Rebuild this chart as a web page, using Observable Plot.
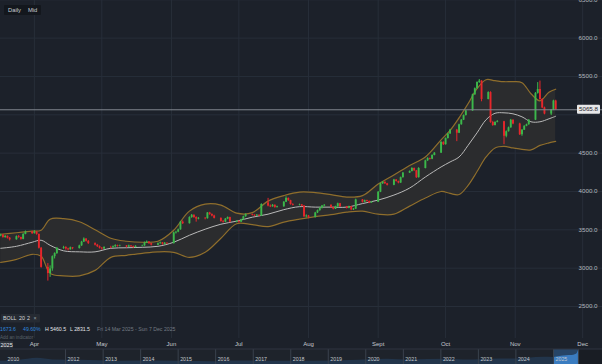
<!DOCTYPE html>
<html><head><meta charset="utf-8">
<script src="https://cdn.jsdelivr.net/npm/d3@7"></script>
<script src="https://cdn.jsdelivr.net/npm/@observablehq/plot@0.6"></script>
<style>
  html, body { margin:0; padding:0; background:#1c212a; }
  #wrap { position:relative; width:602px; height:364px; overflow:hidden; background:#1c212a; }
  #wrap svg { display:block; }
</style></head>
<body><div id="wrap"></div>
<script>
// ---------- data ----------
const dates = [
"03-14",
"03-17","03-18","03-19","03-20","03-21",
"03-24","03-25","03-26","03-27","03-28",
"03-31","04-01","04-02","04-03","04-04",
"04-07","04-08","04-09","04-10","04-11",
"04-14","04-15","04-16","04-17","04-18",
"04-21","04-22","04-23","04-24","04-25",
"04-28","04-29","04-30","05-01","05-02",
"05-05","05-06","05-07","05-08","05-09",
"05-12","05-13","05-14","05-15","05-16",
"05-19","05-20","05-21","05-22","05-23",
"05-26","05-27","05-28","05-29","05-30",
"06-02","06-03","06-04","06-05","06-06",
"06-09","06-10","06-11","06-12","06-13",
"06-16","06-17","06-18","06-19","06-20",
"06-23","06-24","06-25","06-26","06-27",
"06-30","07-01","07-02","07-03","07-04",
"07-07","07-08","07-09","07-10","07-11",
"07-14","07-15","07-16","07-17","07-18",
"07-21","07-22","07-23","07-24","07-25",
"07-28","07-29","07-30","07-31","08-01",
"08-04","08-05","08-06","08-07","08-08",
"08-11","08-12","08-13","08-14","08-15",
"08-18","08-19","08-20","08-21","08-22",
"08-25","08-26","08-27","08-28","08-29",
"09-01","09-02","09-03","09-04","09-05",
"09-08","09-09","09-10","09-11","09-12",
"09-15","09-16","09-17","09-18","09-19",
"09-22","09-23","09-24","09-25","09-26",
"09-29","09-30","10-01","10-02","10-03",
"10-06","10-07","10-08","10-09","10-10",
"10-13","10-14","10-15","10-16","10-17",
"10-20","10-21","10-22","10-23","10-24",
"10-27","10-28","10-29","10-30","10-31",
"11-03","11-04","11-05","11-06","11-07",
"11-10","11-11","11-12","11-13","11-14",
"11-17","11-18","11-19"];

const open = [
3445,
3420,3430,3400,3415,3390,
3370,3410,3400,3375,3440,
3470,3450,3470,3440,3260,
3010,2930,2990,3150,3190,
3260,3270,3250,3240,3265,
3255,3290,3340,3380,3350,
3320,3300,3280,3260,3250,
3270,3265,3280,3295,3285,
3290,3275,3290,3280,3270,
3285,3290,3330,3340,3320,
3300,3320,3330,3310,3325,
3320,3460,3470,3500,3600,
3580,3660,3690,3660,3640,
3650,3645,3720,3700,3680,
3650,3610,3600,3640,3660,
3600,3610,3600,3630,3670,
3700,3690,3680,3690,3680,
3850,3810,3800,3820,3790,
3800,3860,3910,3880,3830,
3820,3825,3810,3670,3680,
3660,3720,3750,3780,3810,
3820,3790,3770,3800,3840,
3800,3780,3800,3760,3770,
3890,3860,3880,3870,3850,
3860,3990,4100,4120,4100,
4080,4150,4130,4110,4180,
4240,4260,4300,4270,4180,
4300,4400,4430,4420,4470,
4500,4640,4610,4690,4750,
4800,4760,4870,4930,4990,
5050,5260,5340,5420,5440,
5200,5290,4900,4860,4900,
4910,4720,4780,4830,4930,
4880,4740,4800,4850,4870,
4930,5280,5330,5200,5090,
5010,5060,5180];

const high = [
3460,
3445,3440,3425,3420,3400,
3420,3425,3405,3450,3485,
3480,3490,3475,3445,3270,
3060,3030,3160,3200,3270,
3285,3280,3260,3275,3270,
3300,3350,3395,3385,3360,
3330,3310,3290,3270,3280,
3285,3290,3305,3300,3300,
3295,3300,3295,3288,3292,
3300,3340,3355,3345,3325,
3328,3340,3335,3335,3330,
3470,3480,3510,3610,3615,
3670,3700,3695,3670,3660,
3660,3725,3728,3708,3690,
3655,3620,3648,3668,3665,
3620,3615,3638,3678,3708,
3705,3695,3700,3695,3840,
3910,3825,3830,3825,3808,
3868,3930,3915,3885,3840,
3835,3830,3815,3695,3688,
3728,3758,3788,3818,3830,
3825,3795,3808,3848,3845,
3805,3808,3805,3778,3900,
3895,3888,3886,3875,3868,
4000,4108,4130,4125,4106,
4158,4155,4135,4188,4248,
4268,4310,4306,4275,4310,
4408,4440,4436,4478,4508,
4650,4648,4698,4758,4810,
4810,4878,4938,4998,5058,
5270,5350,5430,5460.5,5445,
5300,5300,4915,4910,4925,
4915,4790,4840,4940,4935,
4890,4808,4858,4878,4938,
5290,5420,5440,5210,5100,
5070,5190,5190];

const low = [
3410,
3410,3390,3390,3380,3355,
3365,3390,3365,3370,3435,
3440,3445,3430,3250,3000,
2831.5,2880,2960,3120,3180,
3245,3235,3225,3235,3240,
3250,3285,3335,3340,3310,
3290,3270,3250,3235,3245,
3255,3260,3270,3275,3278,
3265,3270,3270,3258,3265,
3278,3285,3322,3312,3290,
3295,3312,3300,3305,3310,
3315,3445,3462,3495,3570,
3575,3650,3650,3600,3630,
3630,3640,3690,3670,3642,
3600,3588,3595,3632,3590,
3592,3588,3595,3625,3665,
3682,3670,3675,3672,3675,
3800,3790,3795,3782,3785,
3795,3855,3872,3822,3812,
3812,3800,3660,3655,3645,
3655,3712,3742,3772,3800,
3782,3760,3765,3795,3792,
3772,3775,3750,3752,3765,
3850,3855,3862,3842,3845,
3855,3985,4092,4092,4072,
4075,4122,4100,4105,4175,
4235,4255,4262,4170,4175,
4295,4392,4410,4415,4465,
4495,4600,4605,4685,4745,
4650,4755,4865,4925,4985,
5045,5255,5335,5410,5170,
5195,4890,4850,4855,4895,
4610,4700,4775,4825,4870,
4730,4720,4795,4845,4865,
4925,5270,5190,5080,5000,
4990,5055,5060];

const close = [
3420,
3430,3400,3415,3390,3370,
3410,3400,3375,3440,3470,
3450,3470,3440,3260,3010,
2930,2990,3150,3190,3260,
3270,3250,3240,3265,3255,
3290,3340,3380,3350,3320,
3300,3280,3260,3250,3270,
3265,3280,3295,3285,3290,
3275,3290,3280,3270,3285,
3290,3330,3340,3320,3300,
3320,3330,3310,3325,3320,
3460,3470,3500,3600,3580,
3660,3690,3660,3640,3650,
3645,3720,3700,3680,3650,
3610,3600,3640,3660,3600,
3610,3600,3630,3670,3700,
3690,3680,3690,3680,3830,
3810,3800,3820,3790,3800,
3860,3910,3880,3830,3820,
3825,3810,3670,3680,3660,
3720,3750,3780,3810,3820,
3790,3770,3800,3840,3800,
3780,3800,3760,3770,3890,
3860,3880,3870,3850,3860,
3990,4100,4120,4100,4080,
4150,4130,4110,4180,4240,
4260,4300,4270,4180,4300,
4400,4430,4420,4470,4500,
4640,4610,4690,4750,4800,
4760,4870,4930,4990,5050,
5260,5340,5420,5440,5200,
5290,4900,4860,4900,4910,
4720,4780,4830,4930,4880,
4740,4800,4850,4870,4930,
5280,5330,5200,5090,5010,
5060,5180,5065.8];

// Bollinger band (20, 2)
const bandDates = ["03-17","03-24","03-31","04-04","04-08","04-14","04-21","04-28","05-05","05-12","05-19","05-26",
  "06-02","06-09","06-16","06-23","06-30","07-07","07-14","07-21","07-28","08-04","08-11","08-18","08-25",
  "09-01","09-08","09-15","09-22","09-29","10-03","10-07","10-11","10-15","10-19","10-23","10-27","10-31",
  "11-04","11-08","11-12","11-16","11-19"];
const upperBand = [3442,3462,3482,3495,3639,3645,3606,3502,3390,3351,3338,3351,3495,3744,3835,3822,3717,3724,3874,3946,3992,3986,3959,3927,3946,4097,4215,4340,4450,4673,4797,4961,5144,5341,5458,5445,5432,5432,5419,5275,5183,5295,5334];
const middleBand = [3259,3285,3338,3364,3298,3226,3213,3213,3259,3266,3272,3285,3338,3429,3508,3573,3613,3665,3704,3763,3802,3796,3796,3796,3842,3888,3953,4045,4189,4320,4385,4450,4601,4765,4935,5020,5026,5013,4974,4909,4909,4948,4981];
const lowerBand = [3076,3115,3181,3155,2932,2899,2899,2971,3141,3168,3194,3213,3207,3141,3207,3390,3580,3567,3541,3600,3639,3672,3698,3730,3743,3704,3704,3809,3915,4000,3975,3960,4080,4260,4450,4568,4588,4568,4549,4542,4601,4634,4653];

const yTicks = [2500,3000,3500,4000,4500,5000,5500,6000,6500];
const monthStarts = ["04-01","05-01","06-01","07-01","08-01","09-01","10-01","11-01","12-01"];
const monthLabels = ["Apr","May","Jun","Jul","Aug","Sept","Oct","Nov","Dec"];
const lastPrice = 5065.8;

// navigator (long history strip)
const navDates = ["2010-04-08","2010-10-01","2011-04-01","2011-09-01","2012-06-01","2013-06-01","2014-06-01","2015-12-01","2016-07-01","2017-06-01","2018-08-01","2019-08-01","2020-08-01","2021-03-01","2022-03-01","2022-10-01","2023-05-01","2024-01-01","2024-05-01","2024-10-01","2025-01-01","2025-03-01","2025-05-01","2025-07-01","2025-08-15","2025-09-01"];
const navValues = [1200,1500,2300,1700,1600,1250,1300,1060,1350,1250,1200,1500,2000,1700,1950,1650,2000,2050,2350,2700,2650,3000,3300,3350,3900,5300];
const navYears = ["2012","2013","2014","2015","2016","2017","2018","2019","2020","2021","2022","2023","2024","2025"];
const navFirstYear = "2010";
const navWindow = ["2025-01-01","2025-09-01"];

// ---------- build ----------
const W = 602, H = 364;
const FONT = "Liberation Sans, Arial, sans-serif";
const toDate = s => new Date(`2025-${s}T00:00:00Z`);
const candles = dates.map((s, i) => ({date: toDate(s), open: open[i], high: high[i], low: low[i], close: close[i]}));
const bands = bandDates.map((s, i) => ({date: toDate(s), upper: upperBand[i], middle: middleBand[i], lower: lowerBand[i]}));
const months = monthStarts.map(toDate);
const GREEN = "#3bb84b", RED = "#e6262b";
const col = d => d.close >= d.open ? GREEN : RED;

const yDomain = [2500, 6500], yRange = [306, -0.7];
// the price tag hides the axis label that sits under it
const yOf = v => yRange[0] + (v - yDomain[0]) * (yRange[1] - yRange[0]) / (yDomain[1] - yDomain[0]);
const yLabelTicks = yTicks.filter(v => Math.abs(yOf(v) - yOf(lastPrice)) > 7);

const chart = Plot.plot({
  width: W, height: H,
  marginTop: 0, marginRight: 0, marginBottom: 26, marginLeft: 0,
  style: {background: "#1c212a", fontFamily: FONT},
  x: {type: "utc", domain: [new Date(Date.UTC(2025, 2, 16, 22)), new Date(Date.UTC(2025, 11, 9, 20))], axis: null},
  y: {domain: yDomain, range: yRange, axis: null},
  color: {type: "identity"},
  marks: [
    Plot.ruleY(yTicks, {stroke: "#272e39", strokeWidth: 1}),
    Plot.ruleX(months, {stroke: "#272e39", strokeWidth: 1}),
    Plot.areaY(bands, {x: "date", y1: "lower", y2: "upper", fill: "#2b2c2e", curve: "catmull-rom", clip: true}),
    Plot.line(bands, {x: "date", y: "upper", stroke: "#8f6e2c", strokeWidth: 1.2, curve: "catmull-rom", clip: true}),
    Plot.line(bands, {x: "date", y: "lower", stroke: "#8f6e2c", strokeWidth: 1.2, curve: "catmull-rom", clip: true}),
    Plot.line(bands, {x: "date", y: "middle", stroke: "#b9b9b9", strokeWidth: 1, curve: "catmull-rom", clip: true}),
    Plot.ruleX(candles, {x: "date", y1: "low", y2: "high", stroke: col, strokeWidth: 1, clip: true}),
    Plot.ruleX(candles, {x: "date", y1: "open", y2: "close", stroke: col, strokeWidth: 1.9, clip: true}),
    Plot.ruleY([lastPrice], {stroke: "#80868e", strokeWidth: 1}),
    Plot.text(yLabelTicks, {y: d => d, text: d => d.toFixed(1), frameAnchor: "right", textAnchor: "end", dx: -5, fill: "#b3b8bf", fontSize: 6.2}),
    Plot.text(months, {x: d => d, text: (d, i) => monthLabels[i], frameAnchor: "bottom", dy: 7, fill: "#c4c8ce", fontSize: 6})
  ]
});
const wrap = document.getElementById("wrap");
chart.style.position = "absolute"; chart.style.left = "0px"; chart.style.top = "0px";
wrap.appendChild(chart);

// navigator
const navData = navDates.map((s, i) => ({date: new Date(s + "T00:00:00Z"), value: navValues[i]}));
const winStart = new Date(navWindow[0] + "T00:00:00Z"), winEnd = new Date(navWindow[1] + "T00:00:00Z");
const navEnd = new Date(Date.UTC(2026, 3, 23));
const nav = Plot.plot({
  width: W, height: 15, margin: 0,
  style: {background: "#1e232b", fontFamily: FONT},
  x: {type: "utc", domain: [new Date(Date.UTC(2010, 3, 8)), navEnd], axis: null},
  y: {domain: [0, 5600], axis: null},
  marks: [
    Plot.rect([0], {x1: () => winStart, x2: () => winEnd, fill: "#264567"}),
    Plot.rect([0], {x1: () => winEnd, x2: () => navEnd, fill: "#191d24"}),
    Plot.areaY(navData, {x: "date", y: "value", fill: "#22354b", curve: "monotone-x"}),
    Plot.areaY(navData.filter(d => d.date >= winStart), {x: "date", y: "value", fill: "#3a7cc0", curve: "monotone-x"}),
    Plot.ruleX(navYears.map(y => new Date(y + "-01-01T00:00:00Z")), {stroke: "#3a424d", strokeWidth: 1}),
    Plot.ruleX([winEnd], {stroke: "#3a424d", strokeWidth: 1}),
    Plot.text(navYears, {x: y => new Date(y + "-01-01T00:00:00Z"), text: d => d, frameAnchor: "bottom", textAnchor: "start", dx: 2, dy: -4, fill: "#c3c7cd", fontSize: 5.3}),
    Plot.text([navFirstYear], {text: d => d, frameAnchor: "bottom-left", textAnchor: "start", dx: 7, dy: -4, fill: "#c3c7cd", fontSize: 5.3})
  ]
});
nav.style.position = "absolute"; nav.style.left = "0px"; nav.style.top = "349px";
wrap.appendChild(nav);

// overlay: toolbar, legend, price tag
const ov = d3.select(wrap).append("svg")
  .attr("width", W).attr("height", H)
  .style("position", "absolute").style("left", "0px").style("top", "0px")
  .style("font-family", FONT);
ov.append("line").attr("x1", 0).attr("x2", W).attr("y1", 349).attr("y2", 349).attr("stroke", "#2f3540");
// Daily / Mid
ov.append("rect").attr("x", 4).attr("y", 5).attr("width", 37).attr("height", 10).attr("fill", "#13171d").attr("rx", 1);
ov.append("text").attr("x", 8).attr("y", 12).attr("font-size", 5.8).attr("fill", "#c9cdd2").text("Daily");
ov.append("text").attr("x", 28).attr("y", 12).attr("font-size", 5.8).attr("fill", "#c9cdd2").text("Mid");
// BOLL legend
ov.append("rect").attr("x", 1).attr("y", 314).attr("width", 39).attr("height", 8.5).attr("fill", "#262b33").attr("rx", 1);
ov.append("text").attr("x", 3).attr("y", 320).attr("font-size", 5.3).attr("fill", "#d6d9dd").text("BOLL");
ov.append("text").attr("x", 19).attr("y", 320).attr("font-size", 5.3).attr("fill", "#d6d9dd").text("20");
ov.append("text").attr("x", 27).attr("y", 320).attr("font-size", 5.3).attr("fill", "#d6d9dd").text("2");
ov.append("text").attr("x", 33.5).attr("y", 320).attr("font-size", 5.3).attr("fill", "#9aa0a8").text("×");
// stats row
const hiV = d3.max(high), loV = d3.min(low);
ov.append("text").attr("x", 0).attr("y", 331).attr("font-size", 5.2).attr("fill", "#2f86df").text("1673.6");
ov.append("text").attr("x", 23).attr("y", 331).attr("font-size", 5.2).attr("fill", "#2f86df").text("49.60%");
ov.append("text").attr("x", 45).attr("y", 331).attr("font-size", 5.2).attr("fill", "#e4e6e9").text("H " + hiV.toFixed(1));
ov.append("text").attr("x", 70).attr("y", 331).attr("font-size", 5.2).attr("fill", "#e4e6e9").text("L " + loV.toFixed(1));
ov.append("text").attr("x", 97).attr("y", 331).attr("font-size", 5.2).attr("fill", "#737a83").text("Fri 14 Mar 2025 - Sun 7 Dec 2025");
ov.append("text").attr("x", 0).attr("y", 338.5).attr("font-size", 4.6).attr("fill", "#5a616a").text("Add an indicator");
// year tag on time axis
ov.append("rect").attr("x", 0).attr("y", 341).attr("width", 13).attr("height", 7.5).attr("fill", "#2b313a");
ov.append("text").attr("x", 0.5).attr("y", 347).attr("font-size", 5.5).attr("fill", "#e8eaed").text("2025");
// last price tag
const py = chart.scale("y").apply(lastPrice);
ov.append("rect").attr("x", 577).attr("y", py - 4.5).attr("width", 23).attr("height", 9).attr("fill", "#e6e7e9").attr("rx", 1);
ov.append("text").attr("x", 588.5).attr("y", py + 2.2).attr("text-anchor", "middle").attr("font-size", 6.2).attr("fill", "#1d222a").text(lastPrice.toFixed(1));
</script>
</body></html>
